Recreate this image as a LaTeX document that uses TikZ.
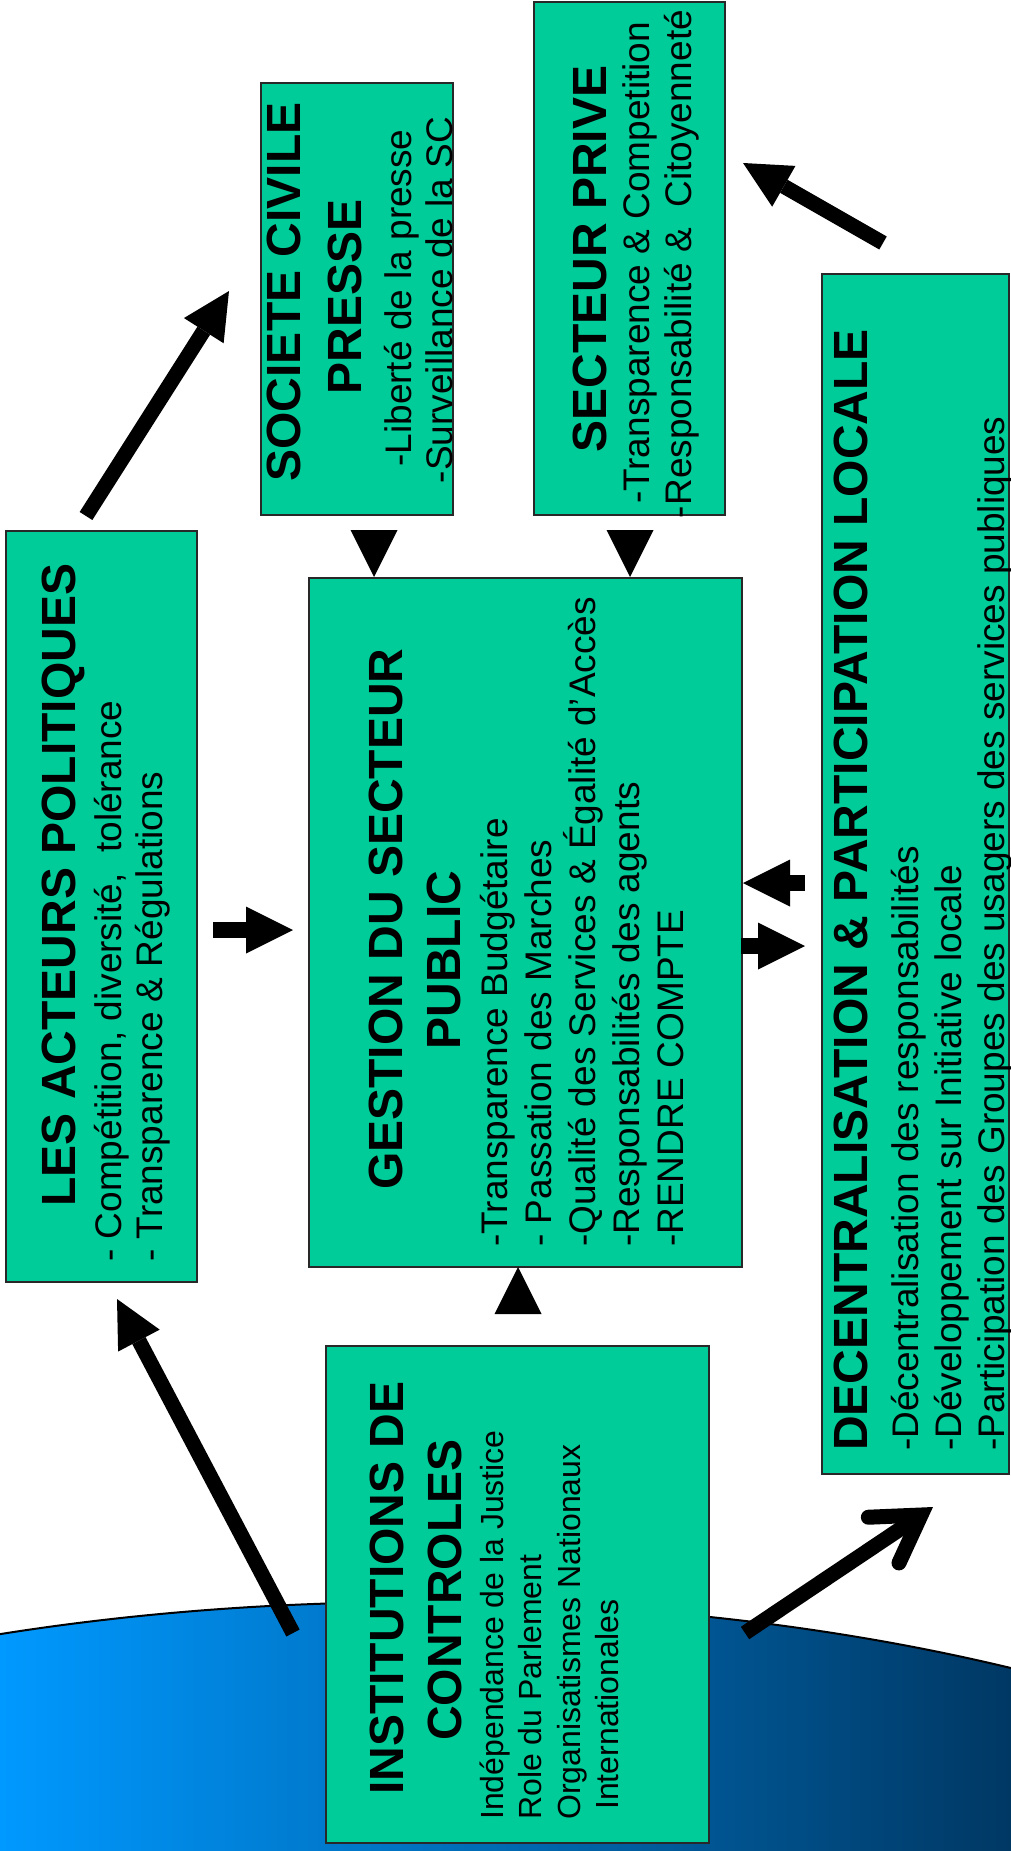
\documentclass[tikz,border=0pt]{standalone}
\usepackage{fontspec}
\setmainfont{Liberation Sans}
\usetikzlibrary{arrows.meta}

\definecolor{boxgreen}{RGB}{0,204,153}
\definecolor{boxline}{RGB}{40,40,40}
\definecolor{globeleft}{RGB}{0,153,255}
\definecolor{globeright}{RGB}{0,56,100}

\tikzset{
  box/.style={draw=boxline,line width=2pt,fill=boxgreen,rectangle,inner sep=0pt},
  boxtitle/.style={rotate=90,inner sep=0pt,anchor=base,font=\fontsize{48}{58}\selectfont\bfseries},
  boxitem/.style={rotate=90,inner sep=0pt,anchor=base west,font=\fontsize{37}{44}\selectfont},
  boxitemc/.style={boxitem,anchor=base},
  smallitem/.style={boxitem,font=\fontsize{32}{38}\selectfont},
  bigarrow/.style={line width=15pt,-{Triangle[length=47pt,width=47pt,line width=0pt]}},
  blockarrow/.style={line width=16pt,-{Triangle[length=47pt,width=47pt,line width=0pt]}},
  tri/.style={line width=0.5pt,-{Triangle[length=47pt,width=47pt,line width=0pt]}},
  barbarrow/.style={line width=15pt,-{Straight Barb[length=45pt,width=55pt,line cap=round,line join=miter]}}
}

\begin{document}
\begin{tikzpicture}[x=1pt,y=-1pt]
  \useasboundingbox (0,0) rectangle (1011,1851);

  % globe
  \begin{scope}
    \clip (0,0) rectangle (1011,1851);
    \clip (420,2112) ellipse [x radius=1200pt,y radius=510pt];
    \shade[left color=globeleft,right color=globeright] (0,1500) rectangle (1011,1851);
  \end{scope}
  \draw[line width=2pt] (420,2112) ellipse [x radius=1200pt,y radius=510pt];

  % boxes
  \node[box,minimum width=191pt,minimum height=751pt] (acteurs) at (101.5,906.5) {};
  \node[box,minimum width=192pt,minimum height=432pt] (societe) at (357,299) {};
  \node[box,minimum width=191pt,minimum height=513pt] (prive) at (629.5,258.5) {};
  \node[box,minimum width=433pt,minimum height=689pt] (gestion) at (525.5,922.5) {};
  \node[box,minimum width=187pt,minimum height=1200pt] (decentral) at (915.5,874) {};
  \node[box,minimum width=383pt,minimum height=497pt] (institutions) at (517.5,1594.5) {};

  % texts
  \draw (75,885) node[boxtitle] (acteurst) {LES ACTEURS POLITIQUES};
  \draw (121,1262) node[boxitem] (acteurs1) {- Compétition, diversité,\ \ tolérance}
  ++(41,0) node[boxitem] (acteurs2) {- Transparence \& Régulations};

  \draw (300,292) node[boxtitle] (societet) {SOCIETE CIVILE}
  ++(61,5) node[boxtitle] (societet2) {PRESSE};
  \draw (411,298) node[boxitemc] (societe1) {-Liberté de la presse}
  ++(41,2) node[boxitemc] (societe2) {-Surveillance de la SC};

  \draw (606,259) node[boxtitle] (privet) {SECTEUR PRIVE};
  \draw (649,263) node[boxitemc] (prive1) {-Transparence \& Competition}
  ++(42,1) node[boxitemc] (prive2) {-Responsabilité \&\ \ Citoyenneté};

  \draw (402,919) node[boxtitle] (gestiont) {GESTION DU SECTEUR}
  ++(58,41) node[boxtitle] (gestiont2) {PUBLIC};
  \draw (507,1247) node[boxitem] (gestion1) {-Transparence Budgétaire}
  ++(44,0) node[boxitem] (gestion2) {- Passation des Marches}
  ++(44,0) node[boxitem] (gestion3) {-Qualité des Services \& Égalité d’Accès}
  ++(44,0) node[boxitem] (gestion4) {-Responsabilités des agents}
  ++(44,0) node[boxitem] (gestion5) {-RENDRE COMPTE};

  \draw (867,1451) node[boxtitle,anchor=base west] (decentralt) {DECENTRALISATION \& PARTICIPATION LOCALE};
  \draw (918,1451) node[boxitem] (decentral1) {-Décentralisation des responsabilités}
  ++(43,0) node[boxitem] (decentral2) {-Développement sur Initiative locale}
  ++(43,0) node[boxitem] (decentral3) {-Participation des Groupes des usagers des services publiques};

  \draw (403,1588) node[boxtitle] (institutionst) {INSTITUTIONS DE}
  ++(58,2) node[boxtitle] (institutionst2) {CONTROLES};
  \draw (503,1820) node[smallitem] (institutions1) {Indépendance de la Justice}
  ++(38.5,0) node[smallitem] (institutions2) {Role du Parlement}
  ++(38.5,0) node[smallitem] (institutions3) {Organisatismes Nationaux}
  ++(38.5,-10) node[smallitem] (institutions4) {Internationales};

  % arrows
  \coordinate (p1) at (86,516);   \coordinate (p2) at (229,291);
  \coordinate (p3) at (883,243);  \coordinate (p4) at (743,163);
  \coordinate (p5) at (293,1633); \coordinate (p6) at (117,1299);
  \coordinate (p7) at (745,1633); \coordinate (p8) at (933,1507);
  \draw[bigarrow] (p1) -- (p2);
  \draw[bigarrow] (p3) -- (p4);
  \draw[bigarrow] (p5) -- (p6);
  \draw[barbarrow] (p7) -- (p8);

  \coordinate (b1) at (213,930); \coordinate (b2) at (293,930);
  \coordinate (b3) at (805,883); \coordinate (b4) at (743,883);
  \coordinate (b5) at (741,946); \coordinate (b6) at (805,946);
  \draw[blockarrow] (b1) -- (b2);
  \draw[blockarrow] (b3) -- (b4);
  \draw[blockarrow] (b5) -- (b6);

  \coordinate (t1) at (374,530);  \coordinate (t2) at (374,577);
  \coordinate (t3) at (630,530);  \coordinate (t4) at (630,577);
  \coordinate (t5) at (518,1314); \coordinate (t6) at (518,1267);
  \draw[tri] (t1) -- (t2);
  \draw[tri] (t3) -- (t4);
  \draw[tri] (t5) -- (t6);

\end{tikzpicture}
\end{document}
